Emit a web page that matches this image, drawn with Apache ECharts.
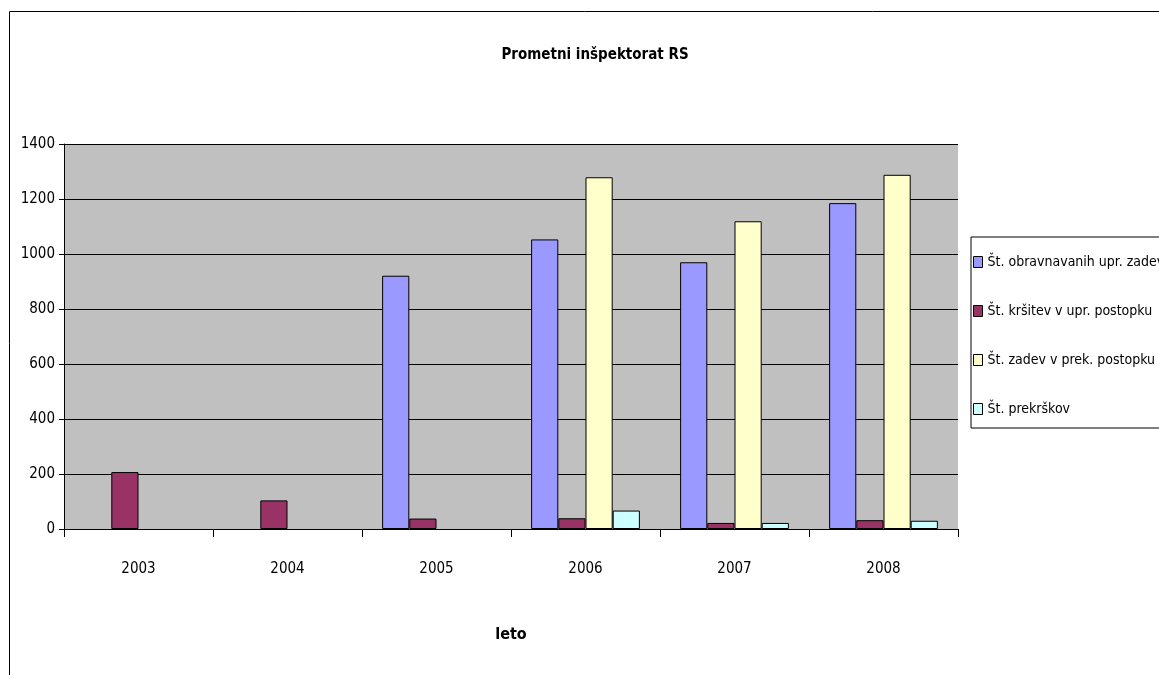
<!DOCTYPE html>
<html>
<head>
<meta charset="utf-8">
<script src="https://cdn.jsdelivr.net/npm/echarts@6/dist/echarts.min.js"></script>
<style>
html,body{margin:0;padding:0;background:#fff;}
#chart{width:1159px;height:675px;}
</style>
</head>
<body>
<div id="chart"></div>
<script>
var categories = ['2003', '2004', '2005', '2006', '2007', '2008'];
var seriesNames = ['Št. obravnavanih upr. zadev', 'Št. kršitev v upr. postopku', 'Št. zadev v prek. postopku', 'Št. prekrškov'];
var obravnavanih = [null, null, 921, 1053, 970, 1185];
var krsitev = [207, 104, 38, 39, 22, 32];
var zadevPrek = [null, null, null, 1279, 1119, 1288];
var prekrskov = [null, null, null, 67, 22, 30];
var colors = ['#9999FF', '#993366', '#FFFFCC', '#CCFFFF'];
var yTicks = [0, 200, 400, 600, 800, 1000, 1200, 1400];

var FONT = "'Liberation Sans Narrow', 'Arial Narrow', 'DejaVu Sans Condensed', sans-serif";
var chart = echarts.init(document.getElementById('chart'));
var dataSets = [obravnavanih, krsitev, zadevPrek, prekrskov];

chart.setOption({
  backgroundColor: '#ffffff',
  animation: false,
  textStyle: { fontFamily: FONT },
  title: {
    text: 'Prometni inšpektorat RS',
    left: 590,
    top: 43,
    textAlign: 'center',
    textStyle: { fontFamily: FONT, fontSize: 15, fontWeight: 'bold', color: '#000' }
  },
  graphic: [{
    type: 'rect',
    shape: { x: 9.5, y: 11.5, width: 1200, height: 700 },
    style: { fill: 'none', stroke: '#000', lineWidth: 1 },
    z: 100
  }],
  legend: {
    orient: 'vertical',
    left: 971,
    top: 237,
    data: seriesNames,
    backgroundColor: '#fff',
    borderColor: '#000',
    borderWidth: 1,
    padding: [18, 40, 12, 2],
    itemGap: 35,
    itemWidth: 9,
    itemHeight: 11,
    icon: 'rect',
    itemStyle: { borderColor: '#000', borderWidth: 1 },
    textStyle: { fontFamily: FONT, fontSize: 14, color: '#000' }
  },
  grid: { left: 64, top: 144, right: 201, bottom: 146, show: true, backgroundColor: '#C0C0C0', borderWidth: 0 },
  xAxis: {
    type: 'category',
    data: categories,
    boundaryGap: true,
    name: 'leto',
    nameLocation: 'middle',
    nameGap: 98,
    nameTextStyle: { fontFamily: FONT, fontSize: 16, fontWeight: 'bold', color: '#000' },
    axisLine: { lineStyle: { color: '#000', width: 1 } },
    axisTick: { show: true, length: 8, lineStyle: { color: '#000' } },
    axisLabel: { fontFamily: FONT, fontSize: 15, color: '#000', margin: 33 }
  },
  yAxis: {
    type: 'value',
    min: 0,
    max: 1400,
    interval: 200,
    axisLine: { show: true, lineStyle: { color: '#000', width: 1 } },
    axisTick: { show: true, length: 5, lineStyle: { color: '#000' } },
    axisLabel: {
      fontFamily: FONT, fontSize: 15, color: '#000', margin: 9,
      formatter: function (v) { return yTicks.indexOf(v) >= 0 ? String(v) : ''; }
    },
    splitLine: { show: true, lineStyle: { color: '#000', width: 1 } }
  },
  series: seriesNames.map(function (n, i) {
    return {
      name: n,
      type: 'bar',
      data: dataSets[i],
      barGap: '0%',
      barCategoryGap: '27%',
      itemStyle: { color: colors[i], borderColor: '#000', borderWidth: 1 }
    };
  })
});
</script>
</body>
</html>
